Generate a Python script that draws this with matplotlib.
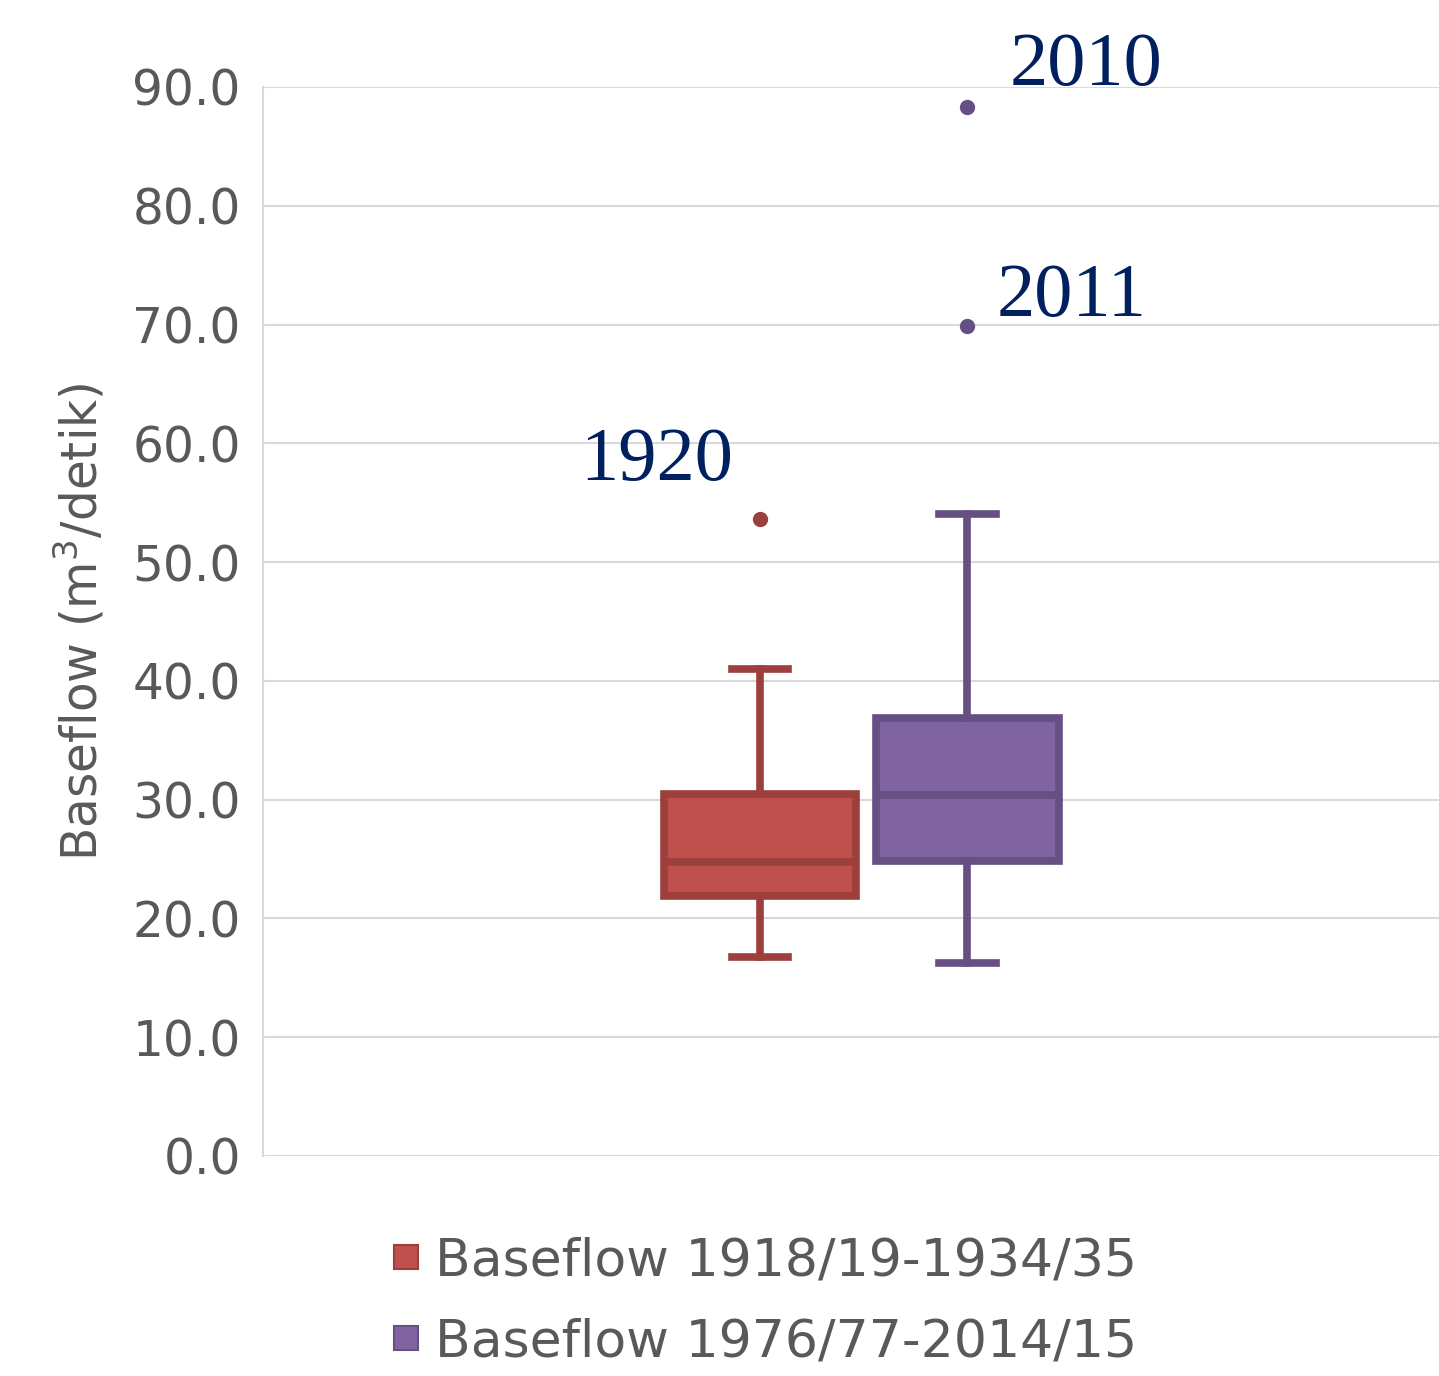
import numpy as np
import matplotlib.pyplot as plt
from matplotlib.lines import Line2D

# Box statistics (m3/detik)
labels = ['Baseflow 1918/19-1934/35', 'Baseflow 1976/77-2014/15']
whislo = [16.75, 16.25]
q1 = [21.9, 24.8]
med = [24.75, 30.4]
q3 = [30.5, 36.9]
whishi = [41.0, 54.05]
fliers = [[53.6], [88.3, 69.9]]
flier_years = [['1920'], ['2010', '2011']]

fills = ['#C0504D', '#8064A2']
edges = ['#9C3F3D', '#664F82']
positions = [0.4226, 0.599]
widths = [0.163, 0.156]

plt.rcParams['font.family'] = ['DejaVu Sans']

fig = plt.figure(figsize=(14.39, 13.76), dpi=100)
ax = fig.add_axes([0.1828, 0.1599, 0.8172, 0.7769])

for i in range(2):
    stats = [dict(whislo=whislo[i], q1=q1[i], med=med[i], q3=q3[i],
                  whishi=whishi[i], fliers=fliers[i])]
    ax.bxp(stats, positions=[positions[i]], widths=widths[i], patch_artist=True,
           capwidths=0.048, manage_ticks=False,
           boxprops=dict(facecolor=fills[i], edgecolor=edges[i], linewidth=5.5),
           medianprops=dict(color=edges[i], linewidth=5.5),
           whiskerprops=dict(color=edges[i], linewidth=5.5),
           capprops=dict(color=edges[i], linewidth=5.5),
           flierprops=dict(marker='o', markerfacecolor=edges[i],
                           markeredgecolor=edges[i], markersize=10))

# Year labels for the outliers
year_font = dict(family='Liberation Serif', fontsize=55, color='#002060', va='baseline')
ax.text(positions[0] - 0.088, fliers[0][0] + 3.3, flier_years[0][0],
        ha='center', **year_font)
ax.text(positions[1] + 0.036, fliers[1][0] + 1.9, flier_years[1][0],
        ha='left', **year_font)
ax.text(positions[1] + 0.025, fliers[1][1] + 0.8, flier_years[1][1],
        ha='left', **year_font)

ax.set_xlim(0, 1)
ax.set_ylim(0, 90)
ax.set_yticks(np.arange(0, 91, 10))
ax.set_yticklabels(['%.1f' % v for v in np.arange(0, 91, 10)])
ax.set_xticks([])
ax.tick_params(axis='y', length=0, pad=16, labelsize=35, labelcolor='#595959')
ax.grid(axis='y', color='#D9D9D9', linewidth=1.5)
ax.set_axisbelow(True)
for s in ['top', 'right', 'bottom']:
    ax.spines[s].set_visible(False)
ax.spines['left'].set_color('#D9D9D9')
ax.spines['left'].set_linewidth(1.5)

ax.set_ylabel('Baseflow (m$^3$/detik)', fontsize=35, color='#595959', labelpad=18)

handles = [Line2D([], [], linestyle='none', marker='s', markersize=17,
                  markerfacecolor=fills[i], markeredgecolor=edges[i],
                  markeredgewidth=1.5) for i in range(2)]
leg = fig.legend(handles, labels, loc='center', bbox_to_anchor=(0.53, 0.054),
                 frameon=False, fontsize=37.5, handlelength=0.7, handletextpad=0.2,
                 labelspacing=0.6, labelcolor='#595959')

plt.savefig('out.png', dpi=100)
